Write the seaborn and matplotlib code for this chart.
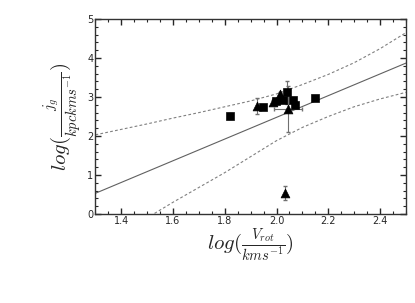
import seaborn as sns
import matplotlib.pyplot as plt
import pandas as pd
from matplotlib.ticker import MultipleLocator

# log(V_rot) and log(j_g)
sq_x = [1.822, 1.949, 1.998, 2.026, 2.039, 2.065, 2.071, 2.148]
sq_y = [2.51, 2.74, 2.89, 2.92, 3.12, 2.93, 2.79, 2.98]
sq_yerr = [0.08, 0.05, 0.05, 0.05, 0.29, 0.05, 0.05, 0.05]

tri_x = [1.923, 1.985, 2.013, 2.045, 2.032]
tri_y = [2.77, 2.87, 3.09, 2.69, 0.53]
tri_yerr = [0.20, 0.05, 0.05, 0.60, 0.18]
tri_xerr = [0.0, 0.0, 0.0, 0.055, 0.0]

fit_x = [1.3, 2.5]
fit_y = [0.53, 3.87]

band_x = [1.3, 1.4, 1.5, 1.6, 1.7, 1.8, 1.9, 2.0, 2.1, 2.2, 2.3, 2.4, 2.5]
band_upper = [2.03, 2.17, 2.31, 2.46, 2.60, 2.75, 2.90, 3.08, 3.32, 3.58, 3.88, 4.24, 4.65]
band_lower = [-0.95, -0.52, -0.10, 0.30, 0.68, 1.06, 1.47, 1.88, 2.22, 2.50, 2.75, 2.95, 3.12]

sns.set_style("ticks")
plt.rcParams['mathtext.fontset'] = 'cm'
plt.rcParams['font.family'] = ['DejaVu Sans']

fig = plt.figure(figsize=(4.15, 3.03), dpi=100)
ax = fig.add_axes([0.230, 0.294, 0.748, 0.643])

band = pd.DataFrame({"x": band_x, "up": band_upper, "lo": band_lower})
sns.lineplot(data=band, x="x", y="up", ax=ax, color="#808080", lw=0.8, linestyle=(0, (2.5, 2)))
sns.lineplot(data=band, x="x", y="lo", ax=ax, color="#808080", lw=0.8, linestyle=(0, (2.5, 2)))
sns.lineplot(x=fit_x, y=fit_y, ax=ax, color="#606060", lw=0.8)

ax.errorbar(sq_x, sq_y, yerr=sq_yerr, fmt="none", ecolor="#707070", elinewidth=0.8, capsize=1.2)
ax.errorbar(tri_x, tri_y, yerr=tri_yerr, xerr=tri_xerr, fmt="none", ecolor="#707070",
            elinewidth=0.8, capsize=1.2)

sns.scatterplot(x=sq_x, y=sq_y, ax=ax, marker="s", s=34, color="black", edgecolor="black", zorder=5)
sns.scatterplot(x=tri_x, y=tri_y, ax=ax, marker="^", s=40, color="black", edgecolor="black", zorder=5)

ax.set_xlim(1.3, 2.5)
ax.set_ylim(0, 5)
ax.xaxis.set_major_locator(MultipleLocator(0.2))
ax.xaxis.set_minor_locator(MultipleLocator(0.05))
ax.yaxis.set_major_locator(MultipleLocator(1))
ax.yaxis.set_minor_locator(MultipleLocator(0.2))
ax.set_xticks([1.4, 1.6, 1.8, 2.0, 2.2, 2.4])
ax.set_xticklabels(["1.4", "1.6", "1.8", "2.0", "2.2", "2.4"])
ax.tick_params(which="both", direction="in", top=True, right=True, labelsize=7, pad=1.5)
ax.tick_params(which="major", length=4, width=1)
ax.tick_params(which="minor", length=2.5, width=0.8)
for s in ax.spines.values():
    s.set_linewidth(1)
    s.set_color("#333333")

ax.set_xlabel(r"$log(\frac{V_{rot}}{kms^{-1}})$", fontsize=15, labelpad=0)
ax.set_ylabel(r"$log(\frac{j_g}{kpckms^{-1}})$", fontsize=15, labelpad=2)

fig.savefig("out.png", dpi=100)
